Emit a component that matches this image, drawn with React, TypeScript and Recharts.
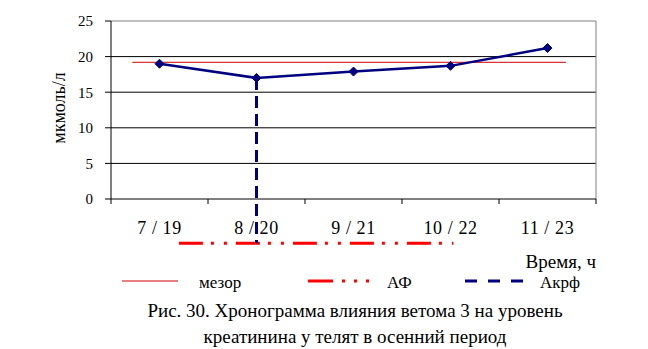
import React from "react";
import {
  CartesianGrid,
  ComposedChart,
  Line,
  ReferenceLine,
  XAxis,
  YAxis,
} from "recharts";

// hours of measurement (day / evening)
const categories = ["7 / 19", "8 / 20", "9 / 21", "10 / 22", "11 / 23"];
const creatinine = [19.0, 17.0, 17.9, 18.7, 21.2];
const yTicks = [0, 5, 10, 15, 20, 25];

// cosinor results, in axis units (x: category slots, y: мкмоль/л)
const mesorValue = 19.2;
const mesorSpan = [0.22, 4.69];
const acrophaseSlot = 1.5;
const acrophaseValue = 17;
const afLevel = -6.2;
const afSpan = [0.7, 3.53];

const data = categories.map((label, i) => ({
  pos: i + 0.5,
  label,
  value: creatinine[i],
}));
const xTicks = categories
  .flatMap((_, i) => [i, i + 0.5])
  .concat(categories.length);

const FONT = "'Liberation Serif', 'Times New Roman', serif";
const NAVY = "#000080";
const RED = "#ff0000";

function XTick(props: any) {
  const { x, y, payload } = props;
  const v = payload.value as number;
  if (Number.isInteger(v)) {
    return <line x1={x} x2={x} y1={y} y2={y + 5} stroke="#000" />;
  }
  return (
    <text
      x={x}
      y={y + 35}
      textAnchor="middle"
      fontSize={18}
      letterSpacing={0.6}
      fontFamily={FONT}
      fill="#000"
    >
      {categories[Math.floor(v)]}
    </text>
  );
}

function Diamond(props: any) {
  const { cx, cy } = props;
  if (cx == null || cy == null) return null;
  const r = 4.5;
  return (
    <polygon
      points={`${cx},${cy - r} ${cx + r},${cy} ${cx},${cy + r} ${cx - r},${cy}`}
      fill={NAVY}
      stroke={NAVY}
    />
  );
}

export default function App() {
  return (
    <div
      style={{
        position: "absolute",
        left: 0,
        top: 0,
        width: 648,
        height: 349,
        background: "#fff",
      }}
    >
      <ComposedChart
        width={648}
        height={349}
        data={data}
        margin={{ top: 21, right: 52, bottom: 120, left: 51 }}
      >
        <CartesianGrid
          vertical={false}
          horizontalValues={[5, 10, 15, 20]}
          stroke="#000"
        />
        <XAxis
          dataKey="pos"
          type="number"
          domain={[0, categories.length]}
          ticks={xTicks}
          interval={0}
          tick={<XTick />}
          tickLine={false}
          tickSize={0}
          tickMargin={0}
          axisLine={{ stroke: "#000" }}
          height={30}
        />
        <YAxis
          domain={[0, 25]}
          ticks={yTicks}
          width={60}
          tickSize={6}
          tickMargin={12}
          axisLine={{ stroke: "#000" }}
          tickLine={{ stroke: "#000" }}
          tick={{ fontSize: 15, fontFamily: FONT, fill: "#000" }}
        />
        <ReferenceLine y={25} stroke="#808080" ifOverflow="visible" />
        <ReferenceLine x={categories.length} stroke="#808080" ifOverflow="visible" />
        <ReferenceLine
          segment={[
            { x: mesorSpan[0], y: mesorValue },
            { x: mesorSpan[1], y: mesorValue },
          ]}
          stroke="#cc0000"
          strokeWidth={1}
          ifOverflow="visible"
        />
        <ReferenceLine
          segment={[
            { x: afSpan[0], y: afLevel },
            { x: afSpan[1], y: afLevel },
          ]}
          stroke={RED}
          strokeWidth={3}
          strokeDasharray="24 8 3 10 3 9"
          ifOverflow="visible"
        />
        <ReferenceLine
          segment={[
            { x: acrophaseSlot, y: acrophaseValue },
            { x: acrophaseSlot, y: afLevel },
          ]}
          stroke={NAVY}
          strokeWidth={3}
          strokeDasharray="12 6"
          ifOverflow="visible"
        />
        <Line
          dataKey="value"
          stroke={NAVY}
          strokeWidth={2.5}
          dot={<Diamond />}
          activeDot={false}
          isAnimationActive={false}
        />
      </ComposedChart>
      <svg
        width={648}
        height={349}
        style={{ position: "absolute", left: 0, top: 0, pointerEvents: "none" }}
        fontFamily={FONT}
      >
        <text
          transform="translate(65,108) rotate(-90)"
          textAnchor="middle"
          fontSize={18}
        >
          мкмоль/л
        </text>
        <text x={596} y={268} fontSize={19} textAnchor="end">
          Время, ч
        </text>
        <line x1={122} x2={178} y1={281} y2={281} stroke="#cc0000" strokeWidth={1} />
        <text x={199} y={288} fontSize={17}>
          мезор
        </text>
        <line
          x1={308}
          x2={370}
          y1={281}
          y2={281}
          stroke={RED}
          strokeWidth={3}
          strokeDasharray="25 9 3 9 3 9 3 30"
        />
        <text x={387} y={288} fontSize={17}>
          АФ
        </text>
        <line
          x1={465}
          x2={524}
          y1={281}
          y2={281}
          stroke={NAVY}
          strokeWidth={3}
          strokeDasharray="12 11"
        />
        <text x={540} y={288} fontSize={17}>
          Акрф
        </text>
        <text x={355} y={317} fontSize={19} textAnchor="middle">
          Рис. 30. Хронограмма влияния ветома 3 на уровень
        </text>
        <text x={355} y={343} fontSize={19} textAnchor="middle">
          креатинина у телят в осенний период
        </text>
      </svg>
    </div>
  );
}
